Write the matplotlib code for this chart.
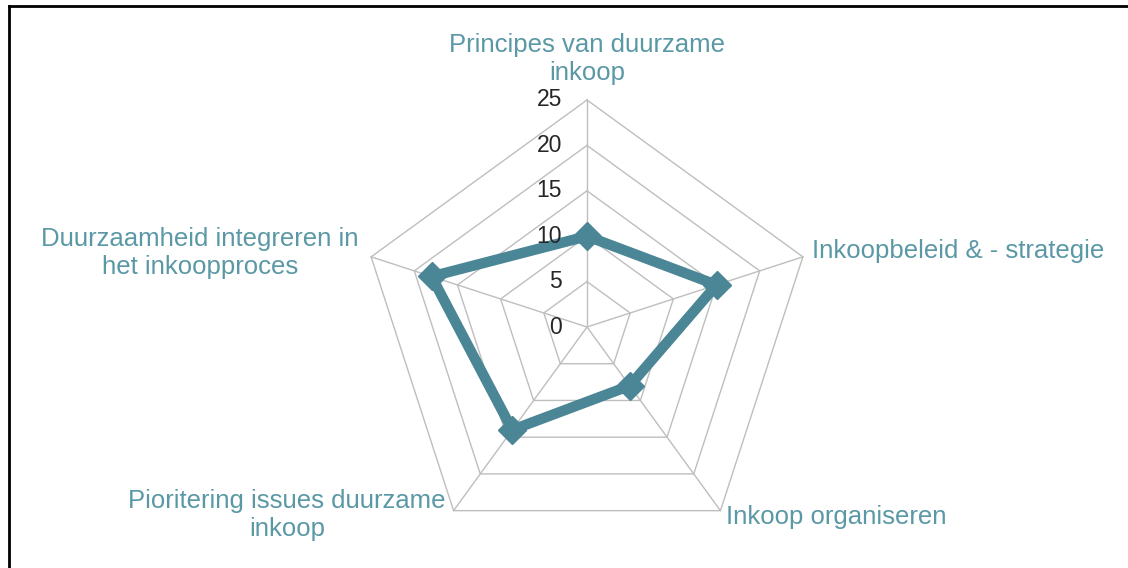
import numpy as np
import matplotlib
matplotlib.use("Agg")
import matplotlib.pyplot as plt
from matplotlib.lines import Line2D

categories = ["Principes van duurzame\ninkoop",
              "Inkoopbeleid & - strategie",
              "Inkoop organiseren",
              "Pioritering issues duurzame\ninkoop",
              "Duurzaamheid integreren in\nhet inkoopproces"]
values = [10, 15, 8, 14, 18]
ticks = [0, 5, 10, 15, 20, 25]
rmax = 25

plt.rcParams['font.family'] = ['Liberation Sans', 'DejaVu Sans']

W, H = 1128, 568
cx, cy = 587, 327          # centre in pixels
ppu = 227 / rmax           # pixels per unit

fig = plt.figure(figsize=(W / 100, H / 100), dpi=100)
ax = fig.add_axes([0, 0, 1, 1])
ax.set_xlim(-cx / ppu, (W - cx) / ppu)
ax.set_ylim(-(H - cy) / ppu, cy / ppu)
ax.axis('off')

n = len(categories)
angles = np.pi / 2 - 2 * np.pi * np.arange(n) / n

def xy(r, a):
    return r * np.cos(a), r * np.sin(a)

grid_c = '#BEBEBE'
# pentagon rings
for t in ticks[1:]:
    xs, ys = xy(np.full(n + 1, t), np.append(angles, angles[0]))
    ax.plot(xs, ys, color=grid_c, lw=1.0, zorder=1)
# spokes
for a in angles:
    x1, y1 = xy(rmax, a)
    ax.plot([0, x1], [0, y1], color=grid_c, lw=1.0, zorder=1)

# data
line_c = '#4A8695'
vx, vy = xy(np.array(values + values[:1], float), np.append(angles, angles[0]))
ax.plot(vx, vy, color=line_c, lw=7.5, solid_joinstyle='miter', zorder=3)
ax.plot(vx[:-1], vy[:-1], ls='none', marker='D', ms=14, color=line_c, zorder=4)

# tick labels
for t in ticks:
    ax.text(-25 / ppu, t, str(t), ha='right', va='center', fontsize=16.5,
            color='#262626', zorder=5)

# category labels (pixel positions)
text_c = '#5B98A6'
label_pos = [(587, 59, 'center'), (812, 251, 'left'), (726, 517, 'left'),
             (287, 515, 'center'), (200, 253, 'center')]
for lab, (px, py, ha) in zip(categories, label_pos):
    ax.text((px - cx) / ppu, (cy - py) / ppu, lab, ha=ha, va='center',
            multialignment='center', fontsize=18.5, color=text_c,
            linespacing=1.22)

# outer frame (left and top)
fig.add_artist(Line2D([9 / W, 9 / W], [0, 1 - 6 / H], color='black', lw=2,
                      transform=fig.transFigure))
fig.add_artist(Line2D([9 / W, 1], [1 - 6 / H, 1 - 6 / H], color='black', lw=2,
                      transform=fig.transFigure))

fig.savefig('out.png', dpi=100)
